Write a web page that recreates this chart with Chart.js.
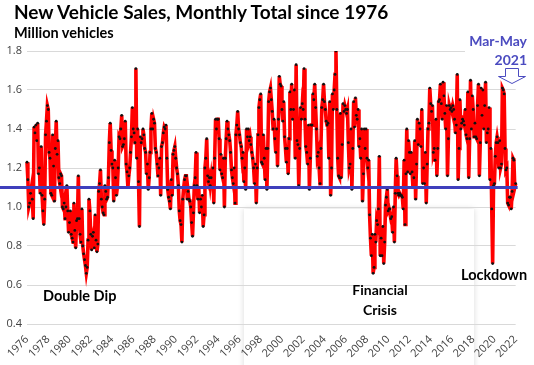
<!DOCTYPE html>
<html><head><meta charset="utf-8">
<script src="https://cdn.jsdelivr.net/npm/chart.js@4.4.1/dist/chart.umd.min.js"></script>
<style>
html,body{margin:0;padding:0;background:#fff;}
#wrap{position:relative;width:534px;height:365px;overflow:hidden;background:#fff;}
canvas{position:absolute;left:0;top:0;}
.lbl{position:absolute;font-family:Lato,sans-serif;font-weight:bold;white-space:nowrap;line-height:1;color:#000;}
#arrow{position:absolute;left:0;top:0;}
</style></head><body>
<div id="wrap">
<canvas id="c" width="534" height="365"></canvas>
<div class="lbl" style="left:14px;top:2px;font-size:19px;">New Vehicle Sales, Monthly Total since 1976</div>
<div class="lbl" style="left:14px;top:26px;font-size:14.5px;">Million vehicles</div>
<div class="lbl" style="left:43px;top:289px;font-size:14.5px;">Double Dip</div>
<div class="lbl" style="left:340px;top:280px;width:80px;text-align:center;font-size:14px;line-height:20px;">Financial<br>Crisis</div>
<div class="lbl" style="left:461px;top:268px;font-size:14.5px;">Lockdown</div>
<div class="lbl" style="right:7px;top:31px;font-size:14px;line-height:19px;text-align:right;color:#4B4BC0;background:#fff;padding-left:4px;">Mar-May<br>2021</div>
<svg id="arrow" width="534" height="365"><path d="M505.5 68.5 H518.5 V76.5 H525.5 L512 83.5 L498.5 76.5 H505.5 Z" fill="#fff" stroke="#4B4BC0" stroke-width="1"/></svg>
</div>
<script>
// Monthly totals, million vehicles, Jun 1976 - Jun 2022
const sales1970s = [
  1.23, 1.14, 1.00, 1.02, 1.07, 1.10, 1.04,                          // 1976 Jun-Dec
  0.94, 1.41, 1.38, 1.42, 1.34, 1.43, 1.17, 1.20, 1.07, 1.31, 1.06, 0.98, // 1977
  0.91, 1.04, 1.37, 1.44, 1.52, 1.50, 1.28, 1.25, 1.07, 1.06, 1.37, 1.21, // 1978
  1.03, 1.30, 1.44, 1.27, 1.34, 1.15, 1.12, 1.17, 1.16, 1.00, 0.99, 1.02  // 1979
];
const sales1980s = [
  0.94, 1.00, 1.11, 0.98, 0.87, 0.92, 0.98, 0.86, 0.84, 0.82, 1.02, 0.88, // 1980
  0.79, 0.93, 0.94, 1.16, 0.94, 0.86, 0.82, 0.99, 0.80, 0.76, 0.73, 0.70, // 1981
  0.66, 0.69, 0.83, 1.04, 0.98, 0.86, 0.78, 0.85, 0.87, 0.79, 0.96, 0.83, // 1982
  0.77, 0.81, 1.08, 1.12, 1.19, 1.04, 1.00, 0.97, 0.96, 1.11, 1.08, 1.04, // 1983
  1.05, 1.15, 1.33, 1.43, 1.29, 1.22, 1.20, 1.03, 1.24, 1.15, 1.06, 1.10, // 1984
  1.20, 1.36, 1.35, 1.40, 1.47, 1.31, 1.32, 1.35, 1.44, 1.22, 1.18, 1.10, // 1985
  1.16, 1.20, 1.28, 1.36, 1.51, 1.40, 1.38, 1.33, 1.71, 1.25, 1.40, 1.13, // 1986
  0.90, 1.36, 1.33, 1.35, 1.40, 1.37, 1.30, 1.28, 1.17, 1.22, 1.09, 1.15, // 1987
  1.28, 1.40, 1.48, 1.40, 1.45, 1.43, 1.30, 1.28, 1.22, 1.16, 1.20, 1.25, // 1988
  1.06, 1.31, 1.33, 1.38, 1.41, 1.40, 1.42, 1.25, 1.09, 1.05, 1.03, 0.99  // 1989
];
const sales1990s = [
  1.14, 1.06, 1.27, 1.29, 1.31, 1.25, 1.20, 1.17, 1.11, 0.98, 0.93, 0.91, // 1990
  0.82, 1.04, 1.10, 1.14, 1.16, 1.16, 1.04, 1.08, 1.04, 1.03, 1.00, 0.92, // 1991
  0.85, 0.97, 1.11, 1.15, 1.28, 1.11, 1.04, 1.10, 0.97, 1.04, 1.00, 1.06, // 1992
  0.90, 0.96, 1.20, 1.25, 1.35, 1.16, 1.13, 1.15, 1.11, 1.15, 1.10, 1.20, // 1993
  1.02, 1.25, 1.45, 1.40, 1.45, 1.45, 1.35, 1.19, 1.27, 1.17, 1.15, 1.25, // 1994
  1.00, 1.25, 1.35, 1.44, 1.40, 1.37, 1.34, 1.28, 1.19, 1.15, 1.12, 1.20, // 1995
  1.02, 1.37, 1.42, 1.49, 1.40, 1.37, 1.33, 1.31, 1.25, 1.28, 1.13, 1.20, // 1996
  1.09, 1.40, 1.36, 1.40, 1.34, 1.36, 1.32, 1.28, 1.25, 1.20, 1.12, 1.22, // 1997
  1.02, 1.20, 1.37, 1.51, 1.55, 1.58, 1.23, 1.22, 1.37, 1.25, 1.14, 1.30, // 1998
  1.09, 1.30, 1.54, 1.59, 1.61, 1.55, 1.49, 1.40, 1.45, 1.35, 1.28, 1.40  // 1999
];
const sales2000s = [
  1.21, 1.45, 1.67, 1.63, 1.62, 1.50, 1.44, 1.54, 1.36, 1.30, 1.23, 1.30, // 2000
  1.17, 1.35, 1.59, 1.50, 1.63, 1.45, 1.50, 1.60, 1.25, 1.73, 1.34, 1.32, // 2001
  1.11, 1.30, 1.51, 1.45, 1.53, 1.50, 1.71, 1.45, 1.31, 1.28, 1.22, 1.42, // 2002
  1.09, 1.25, 1.42, 1.42, 1.58, 1.55, 1.63, 1.51, 1.40, 1.26, 1.28, 1.20, // 2003
  1.12, 1.30, 1.51, 1.55, 1.63, 1.54, 1.50, 1.44, 1.42, 1.43, 1.25, 1.54, // 2004
  1.06, 1.20, 1.58, 1.50, 1.60, 1.68, 1.80, 1.50, 1.25, 1.16, 1.15, 1.48, // 2005
  1.15, 1.32, 1.53, 1.49, 1.52, 1.50, 1.48, 1.50, 1.33, 1.20, 1.22, 1.40, // 2006
  1.09, 1.30, 1.54, 1.41, 1.56, 1.47, 1.45, 1.50, 1.31, 1.35, 1.25, 1.40, // 2007
  1.03, 1.17, 1.40, 1.30, 1.40, 1.25, 1.20, 1.24, 0.96, 0.84, 0.75, 0.86, // 2008
  0.66, 0.69, 0.86, 0.82, 0.93, 0.91, 0.99, 1.26, 0.75, 0.84, 0.75, 0.90  // 2009
];
const sales2010s = [
  0.71, 0.82, 1.01, 1.05, 1.09, 0.98, 0.99, 0.99, 0.94, 0.95, 0.87, 1.00, // 2010
  0.82, 1.07, 1.25, 1.16, 1.07, 1.06, 1.07, 1.06, 1.06, 1.05, 0.99, 1.24, // 2011
  0.91, 1.17, 1.40, 1.18, 1.34, 1.28, 1.17, 1.28, 1.18, 1.10, 1.15, 1.34, // 2012
  1.04, 1.22, 1.45, 1.32, 1.43, 1.40, 1.31, 1.50, 1.12, 1.20, 1.12, 1.28, // 2013
  1.02, 1.22, 1.40, 1.43, 1.61, 1.53, 1.49, 1.52, 1.28, 1.30, 1.24, 1.45, // 2014
  1.16, 1.30, 1.54, 1.55, 1.63, 1.53, 1.45, 1.64, 1.57, 1.48, 1.40, 1.52, // 2015
  1.16, 1.35, 1.52, 1.50, 1.51, 1.49, 1.52, 1.50, 1.45, 1.38, 1.42, 1.68, // 2016
  1.14, 1.30, 1.55, 1.40, 1.43, 1.45, 1.44, 1.42, 1.50, 1.37, 1.35, 1.59, // 2017
  1.15, 1.35, 1.65, 1.40, 1.57, 1.50, 1.36, 1.43, 1.36, 1.35, 1.52, 1.63, // 2018
  1.16, 1.33, 1.61, 1.47, 1.60, 1.40, 1.52, 1.64, 1.33, 1.38, 1.40, 1.51  // 2019
];
const sales2020s = [
  1.14, 1.30, 0.99, 0.71, 1.11, 1.12, 1.26, 1.33, 1.36, 1.33, 1.20, 1.34, // 2020
  1.20, 1.22, 1.61, 1.60, 1.58, 1.30, 1.19, 1.20, 1.02, 1.01, 1.05, 1.05, // 2021
  0.99, 1.08, 1.25, 1.24, 1.10, 1.12                                      // 2022 Jan-Jun
];
const tickYears = ['1976','1978','1980','1982','1984','1986','1988','1990','1992','1994','1996','1998',
                   '2000','2002','2004','2006','2008','2010','2012','2014','2016','2018','2020','2022'];
const monthNames = ['Jan','Feb','Mar','Apr','May','Jun','Jul','Aug','Sep','Oct','Nov','Dec'];
const referenceLevel = 1.1;

const sales = [].concat(sales1970s, sales1980s, sales1990s, sales2000s, sales2010s, sales2020s);
const categories = sales.map((_, i) => { const m = 5 + i; return monthNames[m % 12] + ' ' + (1976 + Math.floor(m / 12)); });

const BLUE = '#3F3FBC';
const decor = {
  id: 'decor',
  beforeDraw(chart) {
    const ctx = chart.ctx;
    ctx.save();
    ctx.shadowColor = 'rgba(0,0,0,0.15)';
    ctx.shadowBlur = 6;
    ctx.fillStyle = '#ffffff';
    ctx.fillRect(244, 209, 230, 200);
    ctx.restore();
  },
  afterDatasetsDraw(chart) {
    const ctx = chart.ctx, a = chart.chartArea;
    const y = chart.scales.y.getPixelForValue(referenceLevel);
    ctx.save();
    ctx.strokeStyle = BLUE;
    ctx.lineWidth = 3;
    ctx.beginPath();
    ctx.moveTo(0, y);
    ctx.lineTo(a.right + 2, y);
    ctx.stroke();
    ctx.restore();
  }
};

new Chart(document.getElementById('c'), {
  type: 'line',
  data: {
    labels: categories,
    datasets: [{
      data: sales,
      borderColor: '#FF0000',
      borderWidth: 3.6,
      pointRadius: 1.4,
      pointBackgroundColor: '#111',
      pointBorderColor: '#111',
      pointBorderWidth: 0,
      tension: 0
    }]
  },
  options: {
    responsive: false,
    animation: false,
    devicePixelRatio: 1,
    layout: { padding: { left: 0, right: 8, top: 51, bottom: 0 } },
    plugins: { legend: { display: false }, tooltip: { enabled: false }, title: { display: false } },
    scales: {
      x: {
        type: 'category',
        offset: false,
        grid: { display: false, drawTicks: false },
        border: { display: false },
        ticks: {
          autoSkip: false, maxRotation: 45, minRotation: 45, padding: 9,
          color: '#404040', font: { family: 'Open Sans', size: 11 },
          callback: (v, i) => (i % 24 === 0 ? tickYears[i / 24] : null)
        },
        afterFit: s => { s.height = 41; }
      },
      y: {
        min: 0.4, max: 1.8,
        grid: { color: '#D9D9D9', drawTicks: false },
        border: { display: false },
        ticks: { stepSize: 0.2, padding: 5, color: '#404040', font: { family: 'Open Sans', size: 11 },
                 callback: v => v.toFixed(1) },
        afterFit: s => { s.width = 27; }
      }
    }
  },
  plugins: [decor]
});
</script>
</body></html>
